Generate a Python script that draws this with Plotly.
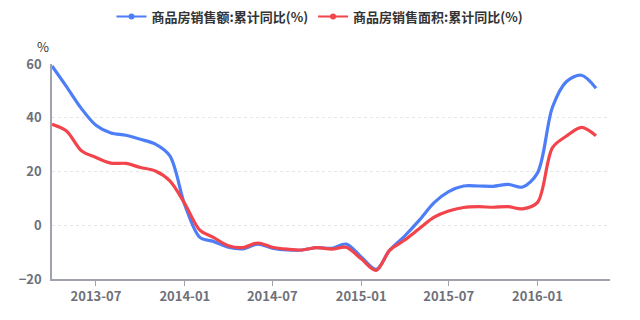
import plotly.graph_objects as go

dates = [
    "2013-04-01", "2013-05-01", "2013-06-01", "2013-07-01", "2013-08-01", "2013-09-01",
    "2013-10-01", "2013-11-01", "2013-12-01", "2014-01-01", "2014-02-01", "2014-03-01",
    "2014-04-01", "2014-05-01", "2014-06-01", "2014-07-01", "2014-08-01", "2014-09-01",
    "2014-10-01", "2014-11-01", "2014-12-01", "2015-01-01", "2015-02-01", "2015-03-01",
    "2015-04-01", "2015-05-01", "2015-06-01", "2015-07-01", "2015-08-01", "2015-09-01",
    "2015-10-01", "2015-11-01", "2015-12-01", "2016-01-01", "2016-02-01", "2016-03-01",
    "2016-04-01", "2016-05-01",
]

sales_value = [
    59.3, 51.6, 43.4, 37.2, 34.3, 33.5, 32.0, 30.2, 25.8, 7.5, -4.5, -6.0,
    -8.2, -8.8, -7.0, -8.5, -9.2, -9.2, -8.3, -8.6, -7.0, -11.8, -16.4, -9.3,
    -4.0, 1.8, 8.4, 12.5, 14.6, 14.6, 14.5, 15.2, 14.2, 19.5, 44.0, 53.5,
    55.8, 51.0,
]

sales_area = [
    37.6, 35.1, 27.7, 25.2, 23.1, 23.0, 21.5, 20.2, 16.5, 8.0, -1.8, -4.5,
    -7.6, -8.3, -6.6, -8.2, -8.9, -9.2, -8.3, -8.9, -8.2, -12.5, -16.8, -9.3,
    -5.5, -1.3, 3.0, 5.3, 6.6, 6.9, 6.7, 6.9, 6.1, 8.5, 28.9, 33.2,
    36.4, 33.3,
]

series_names = ["商品房销售额:累计同比(%)", "商品房销售面积:累计同比(%)"]
tick_vals = ["2013-07-01", "2014-01-01", "2014-07-01", "2015-01-01", "2015-07-01", "2016-01-01"]
tick_text = ["2013-07", "2014-01", "2014-07", "2015-01", "2015-07", "2016-01"]

BLUE = "#4D7EF7"
RED = "#F2444B"
GREY = "#6E7079"
FONT = "Noto Sans CJK SC"

fig = go.Figure()
for name, vals, col in [(series_names[0], sales_value, BLUE), (series_names[1], sales_area, RED)]:
    fig.add_trace(go.Scatter(
        x=dates, y=vals, name=name, mode="lines", showlegend=False,
        line=dict(color=col, width=3.2, shape="spline", smoothing=0.9),
    ))
for name, col in [(series_names[0], BLUE), (series_names[1], RED)]:
    fig.add_trace(go.Scatter(
        x=[None], y=[None], name=name, mode="lines+markers",
        line=dict(color=col, width=2),
        marker=dict(size=6, color=col),
    ))

fig.update_layout(
    width=640, height=320,
    margin=dict(l=52, r=30, t=64, b=41),
    paper_bgcolor="white", plot_bgcolor="white",
    font=dict(family=FONT, color=GREY),
    showlegend=True,
    legend=dict(
        orientation="h", xref="container", yref="container",
        x=0.5, xanchor="center", y=0.995, yanchor="top",
        font=dict(family=FONT, size=13, color="#333333", weight="bold"),
        itemwidth=30, tracegroupgap=0,
    ),
    xaxis=dict(
        type="date",
        range=["2013-04-01", "2016-05-30"],
        tickvals=tick_vals, ticktext=tick_text,
        showgrid=False, zeroline=False,
        showline=True, linecolor="#A0A3AB", linewidth=1.5,
        ticks="outside", ticklen=5, tickcolor="#A0A3AB",
        tickfont=dict(family=FONT, size=13, color=GREY, weight="bold"),
    ),
    yaxis=dict(
        range=[-20, 60], tickvals=[-20, 0, 20, 40, 60],
        showgrid=True, gridcolor="#E6E6E6", griddash="dot", gridwidth=1,
        zeroline=False,
        showline=True, linecolor="#A0A3AB", linewidth=1.5,
        ticks="", ticklabelstandoff=6,
        tickfont=dict(family=FONT, size=13, color=GREY, weight="bold"),
    ),
    annotations=[dict(
        text="%", xref="paper", yref="paper", x=0, y=1,
        xanchor="center", yanchor="bottom", xshift=-9, yshift=6,
        showarrow=False, font=dict(family=FONT, size=13, color="#333333"),
    )],
)

fig.write_html("out.html")
